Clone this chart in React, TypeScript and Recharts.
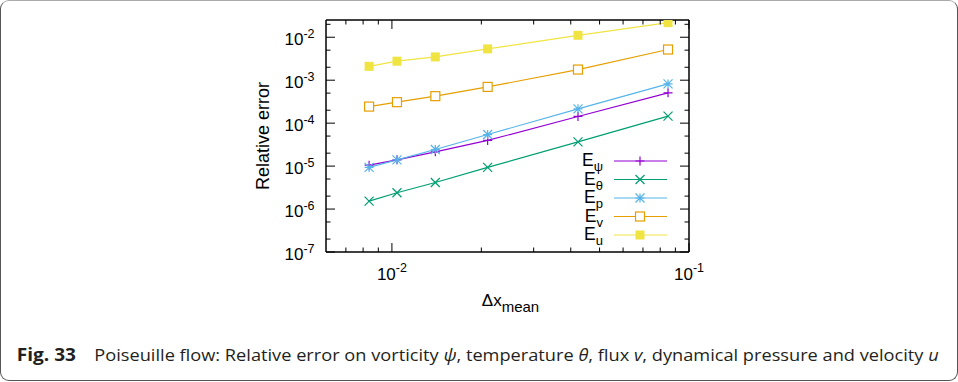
import { LineChart, Line, XAxis, YAxis, Legend, Label } from "recharts";

// grid spacing (x) and relative errors per quantity
const DX = [0.00838, 0.0104, 0.014, 0.021, 0.0423, 0.085];
const E_PSI = [1.05e-5, 1.4e-5, 2.15e-5, 3.96e-5, 1.43e-4, 5.07e-4];
const E_THETA = [1.53e-6, 2.4e-6, 4.16e-6, 9.3e-6, 3.67e-5, 1.46e-4];
const E_P = [9.3e-6, 1.4e-5, 2.43e-5, 5.43e-5, 2.15e-4, 8.2e-4];
const E_V = [2.43e-4, 3.08e-4, 4.25e-4, 6.98e-4, 1.77e-3, 5.18e-3];
const E_U = [2.1e-3, 2.77e-3, 3.48e-3, 5.35e-3, 1.11e-2, 2.19e-2];

const X_TICKS = [0.007, 0.008, 0.009, 0.01, 0.02, 0.03, 0.04, 0.05, 0.06, 0.07, 0.08, 0.09, 0.1];
const Y_TICKS = [
  1e-7, 2e-7, 5e-7, 1e-6, 2e-6, 5e-6, 1e-5, 2e-5, 5e-5, 1e-4, 2e-4, 5e-4, 1e-3, 2e-3, 5e-3, 1e-2, 2e-2,
];

const SERIES = [
  { key: "psi", sub: "ψ", color: "#9400d3", shape: "plus", values: E_PSI },
  { key: "theta", sub: "θ", color: "#009e73", shape: "cross", values: E_THETA },
  { key: "p", sub: "p", color: "#56b4e9", shape: "star", values: E_P },
  { key: "v", sub: "v", color: "#e69f00", shape: "square", values: E_V },
  { key: "u", sub: "u", color: "#f0e442", shape: "fsquare", values: E_U },
];

const data = DX.map((dx, i) => {
  const row: Record<string, number> = { dx };
  for (const s of SERIES) row[s.key] = s.values[i];
  return row;
});

const FONT = "'Liberation Sans', Arial, sans-serif";
const MAJOR = 9;
const MINOR = 4.5;

const isMajor = (v: number) => Math.abs(Math.log10(v) - Math.round(Math.log10(v))) < 1e-6;
const expOf = (v: number) => String(Math.round(Math.log10(v)));

function Marker({ cx, cy, shape, color }: { cx: number; cy: number; shape: string; color: string }) {
  const s = 4.5;
  if (shape === "plus")
    return <path d={`M${cx - s},${cy}H${cx + s}M${cx},${cy - s}V${cy + s}`} stroke={color} strokeWidth={1.2} fill="none" />;
  if (shape === "cross")
    return (
      <path
        d={`M${cx - s},${cy - s}L${cx + s},${cy + s}M${cx - s},${cy + s}L${cx + s},${cy - s}`}
        stroke={color}
        strokeWidth={1.2}
        fill="none"
      />
    );
  if (shape === "star")
    return (
      <path
        d={`M${cx - s},${cy}H${cx + s}M${cx},${cy - s}V${cy + s}M${cx - s},${cy - s}L${cx + s},${cy + s}M${cx - s},${cy + s}L${cx + s},${cy - s}`}
        stroke={color}
        strokeWidth={1.2}
        fill="none"
      />
    );
  if (shape === "square")
    return <rect x={cx - s} y={cy - s} width={2 * s} height={2 * s} stroke={color} strokeWidth={1.2} fill="#fff" />;
  return <rect x={cx - s} y={cy - s} width={2 * s} height={2 * s} fill={color} />;
}

function BottomTick({ x, y, payload }: any) {
  const v = payload.value;
  const major = isMajor(v);
  return (
    <g>
      <line x1={x} y1={y} x2={x} y2={y - (major ? MAJOR : MINOR)} stroke="#000" strokeWidth={1} />
      {major && (
        <text x={x} y={y + 28} textAnchor="middle" fontSize={17} fontFamily={FONT} fill="#000">
          10
          <tspan dy={-8} fontSize={12.5}>
            {expOf(v)}
          </tspan>
        </text>
      )}
    </g>
  );
}

function TopTick({ x, y, payload }: any) {
  const len = isMajor(payload.value) ? MAJOR : MINOR;
  return <line x1={x} y1={y} x2={x} y2={y + len} stroke="#000" strokeWidth={1} />;
}

function LeftTick({ x, y, payload }: any) {
  const v = payload.value;
  const major = isMajor(v);
  return (
    <g>
      <line x1={x} y1={y} x2={x + (major ? MAJOR : MINOR)} y2={y} stroke="#000" strokeWidth={1} />
      {major && (
        <text x={x - 11.5} y={y + 7.7} textAnchor="end" fontSize={17} fontFamily={FONT} fill="#000">
          10
          <tspan dy={-7} fontSize={12.5}>
            {expOf(v)}
          </tspan>
        </text>
      )}
    </g>
  );
}

function RightTick({ x, y, payload }: any) {
  const len = isMajor(payload.value) ? MAJOR : MINOR;
  return <line x1={x} y1={y} x2={x - len} y2={y} stroke="#000" strokeWidth={1} />;
}

function renderLegend() {
  return (
    <svg width={140} height={100}>
      {SERIES.map((s, i) => {
        const y = 13 + i * 18.5;
        return (
          <g key={s.key}>
            <text x={63} y={y + 5} textAnchor="end" fontSize={17.5} fontFamily={FONT} fill="#000">
              E
              <tspan dy={5} fontSize={13}>
                {s.sub}
              </tspan>
            </text>
            <line x1={74} y1={y} x2={127} y2={y} stroke={s.color} strokeWidth={1.2} />
            <Marker cx={100} cy={y} shape={s.shape} color={s.color} />
          </g>
        );
      })}
    </svg>
  );
}

const axisLine = { stroke: "#000", strokeWidth: 1.5 };

export default function App() {
  return (
    <div style={{ position: "absolute", left: 0, top: 0, width: 958, height: 382, background: "#fff" }}>
      <div
        style={{
          position: "absolute",
          left: 0,
          top: 0,
          width: 958,
          height: 381,
          boxSizing: "border-box",
          border: "1.5px solid #555",
          borderTopColor: "#aaa",
          borderRadius: 9,
        }}
      />
      <div style={{ position: "absolute", left: 0, top: 0 }}>
        <LineChart width={958} height={320} data={data} margin={{ top: 19, right: 268, bottom: 18, left: 266 }}>
          <XAxis
            dataKey="dx"
            type="number"
            scale="log"
            domain={[0.006, 0.1]}
            allowDataOverflow
            ticks={X_TICKS}
            interval={0}
            height={50}
            tickSize={0}
            tickMargin={0}
            tickLine={false}
            axisLine={axisLine}
            tick={BottomTick}
          >
            <Label
              content={({ viewBox }: any) => (
                <text x={viewBox.x + viewBox.width / 2 + 3} y={viewBox.y + 54} textAnchor="middle" fontFamily={FONT} fontSize={17} fill="#000">
                  Δx
                  <tspan dy={6} fontSize={15}>
                    mean
                  </tspan>
                </text>
              )}
            />
          </XAxis>
          <XAxis
            xAxisId="top"
            orientation="top"
            dataKey="dx"
            type="number"
            scale="log"
            domain={[0.006, 0.1]}
            allowDataOverflow
            ticks={X_TICKS}
            interval={0}
            height={1}
            tickSize={0}
            tickMargin={0}
            tickLine={false}
            axisLine={axisLine}
            tick={TopTick}
          />
          <YAxis
            type="number"
            scale="log"
            domain={[1e-7, 0.0252]}
            allowDataOverflow
            ticks={Y_TICKS}
            interval={0}
            width={60}
            tickSize={0}
            tickMargin={0}
            tickLine={false}
            axisLine={axisLine}
            tick={LeftTick}
          >
            <Label
              content={({ viewBox }: any) => {
                const x = viewBox.x + 3;
                const y = viewBox.y + viewBox.height / 2;
                return (
                  <text x={x} y={y} transform={`rotate(-90, ${x}, ${y})`} textAnchor="middle" fontFamily={FONT} fontSize={18} fill="#000">
                    Relative error
                  </text>
                );
              }}
            />
          </YAxis>
          <YAxis
            yAxisId="right"
            orientation="right"
            type="number"
            scale="log"
            domain={[1e-7, 0.0252]}
            allowDataOverflow
            ticks={Y_TICKS}
            interval={0}
            width={1}
            tickSize={0}
            tickMargin={0}
            tickLine={false}
            axisLine={axisLine}
            tick={RightTick}
          />
          <Legend
            layout="horizontal"
            verticalAlign="middle"
            align="center"
            content={renderLegend}
            wrapperStyle={{ left: 540, top: 148, width: 140, height: 100 }}
          />
          {SERIES.map((s) => (
            <Line
              key={s.key}
              dataKey={s.key}
              stroke={s.color}
              strokeWidth={1.2}
              isAnimationActive={false}
              dot={(p: any) => <Marker key={`${s.key}-${p.index}`} cx={p.cx} cy={p.cy} shape={s.shape} color={s.color} />}
              activeDot={false}
            />
          ))}
        </LineChart>
      </div>
      <svg style={{ position: "absolute", left: 0, top: 330 }} width={958} height={45}>
        <text x={16.7} y={30.7} fontFamily="'Open Sans', 'Noto Sans', sans-serif" fontWeight={700} fontSize={17} fill="#231f20" textLength={59.3} lengthAdjust="spacingAndGlyphs">
          Fig. 33
        </text>
        <text x={94.3} y={30.7} fontFamily="'Open Sans', 'Noto Sans', sans-serif" fontSize={17} fill="#231f20" textLength={844.4} lengthAdjust="spacingAndGlyphs">
          Poiseuille flow: Relative error on vorticity <tspan fontStyle="italic">ψ</tspan>, temperature{" "}
          <tspan fontStyle="italic">θ</tspan>, flux <tspan fontStyle="italic">v</tspan>, dynamical pressure and velocity{" "}
          <tspan fontStyle="italic">u</tspan>
        </text>
      </svg>
    </div>
  );
}
